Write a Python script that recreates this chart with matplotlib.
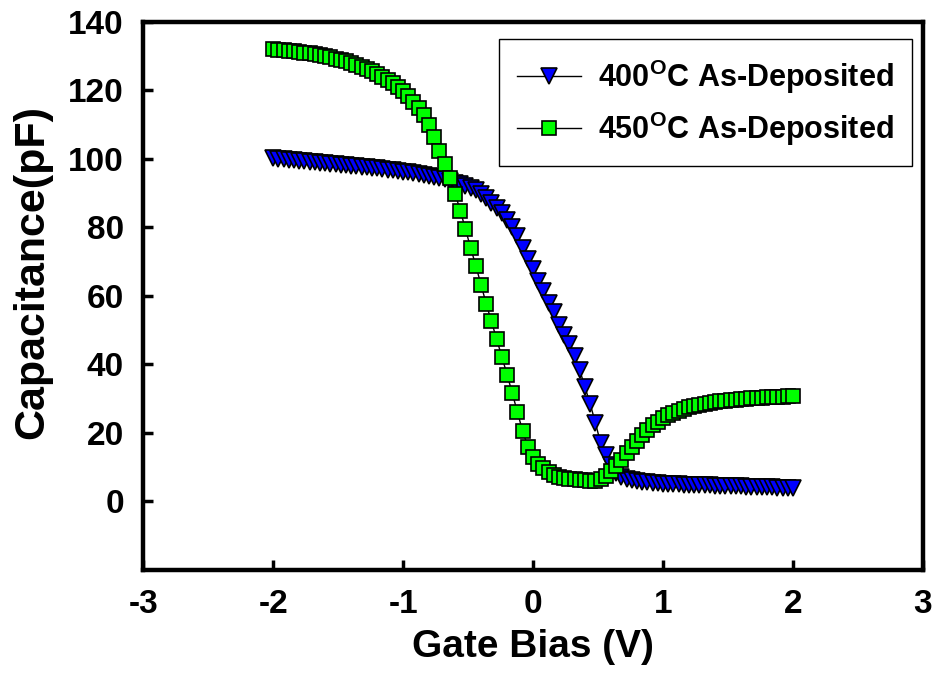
import numpy as np
import matplotlib
matplotlib.use("Agg")
import matplotlib.pyplot as plt

plt.rcParams['font.family'] = ['Liberation Sans', 'DejaVu Sans']
plt.rcParams['font.weight'] = 'bold'
plt.rcParams['axes.unicode_minus'] = False
plt.rcParams['mathtext.fontset'] = 'custom'
plt.rcParams['mathtext.bf'] = 'Liberation Sans:bold'
plt.rcParams['mathtext.rm'] = 'Liberation Sans:bold'

# gate bias sweep, -2 V to 2 V
bias = np.round(np.linspace(-2.0, 2.0, 101), 2)

# C-V curve, 400 C as-deposited (pF)
cap_400 = [100.2, 100.0, 99.9, 99.7, 99.5, 99.4, 99.3, 99.2, 99.0, 98.9,
           98.8, 98.6, 98.5, 98.3, 98.2, 98.0, 97.8, 97.7, 97.5, 97.3,
           97.2, 97.0, 96.8, 96.6, 96.4, 96.2, 96.0, 95.8, 95.6, 95.4,
           95.1, 94.8, 94.5, 94.0, 93.5, 93.0, 92.5, 92.0, 91.4, 90.8,
           89.8, 88.5, 87.1, 85.6, 84.1, 82.2, 80.2, 77.6, 74.0, 70.6,
           67.8, 64.3, 61.4, 57.9, 55.2, 51.6, 48.7, 46.0, 42.5, 38.2,
           33.3, 28.4, 22.9, 17.0, 13.6, 10.5, 8.3, 7.2, 6.6, 6.2,
           5.9, 5.7, 5.5, 5.4, 5.3, 5.2, 5.1, 5.0, 4.95, 4.9,
           4.85, 4.8, 4.75, 4.7, 4.65, 4.6, 4.55, 4.5, 4.45, 4.4,
           4.35, 4.3, 4.25, 4.2, 4.15, 4.1, 4.05, 4.0, 3.95, 3.9,
           3.85]

# C-V curve, 450 C as-deposited (pF)
cap_450 = [132.0, 131.9, 131.8, 131.6, 131.4, 131.2, 131.0, 130.8, 130.5, 130.2,
           129.9, 129.6, 129.2, 128.8, 128.4, 127.9, 127.4, 126.8, 126.2, 125.5,
           124.7, 123.9, 123.0, 122.0, 120.9, 119.7, 118.2, 116.6, 114.8, 112.7,
           109.8, 106.3, 102.2, 98.6, 94.4, 89.8, 84.9, 79.4, 74.0, 68.7,
           63.2, 57.6, 52.5, 47.3, 42.2, 37.0, 31.6, 26.0, 20.5, 16.0,
           13.0, 10.9, 9.6, 8.5, 7.7, 7.2, 6.9, 6.6, 6.4, 6.2,
           6.1, 6.0, 6.0, 6.4, 7.4, 8.8, 10.3, 12.1, 14.0, 15.9,
           17.7, 19.4, 20.9, 22.2, 23.3, 24.3, 25.1, 25.8, 26.4, 26.9,
           27.4, 27.8, 28.2, 28.5, 28.8, 29.0, 29.2, 29.4, 29.6, 29.7,
           29.9, 30.0, 30.1, 30.2, 30.3, 30.4, 30.5, 30.6, 30.6, 30.7,
           30.8]

fig = plt.figure(figsize=(9.36, 6.8), dpi=100)
ax = fig.add_axes([0.153, 0.162, 0.833, 0.806])

ax.plot(bias, cap_400, color='black', lw=1, marker='v', ms=12,
        mfc='#0000ff', mec='black', mew=1.2,
        label=r'400$^{\mathbf{O}}$C As-Deposited')
ax.plot(bias, cap_450, color='black', lw=1, marker='s', ms=10.5,
        mfc='#00ff00', mec='black', mew=1.2,
        label=r'450$^{\mathbf{O}}$C As-Deposited')

ax.set_xlim(-3, 3)
ax.set_ylim(-20, 140)
ax.set_xticks(range(-3, 4))
ax.set_yticks(range(0, 141, 20))

for s in ax.spines.values():
    s.set_linewidth(3.2)
ax.tick_params(direction='in', length=7, width=2.5, labelsize=24, pad=14)
for lab in ax.get_xticklabels() + ax.get_yticklabels():
    lab.set_fontweight('bold')

ax.set_xlabel('Gate Bias (V)', fontsize=28, fontweight='bold', labelpad=6)
ax.set_ylabel('Capacitance(pF)', fontsize=31, fontweight='bold')
ax.yaxis.set_label_coords(-0.117, 0.544)

leg = ax.legend(loc='upper right', bbox_to_anchor=(0.986, 0.968),
                fontsize=22, handlelength=2.1, handletextpad=0.55,
                borderpad=0.6, labelspacing=0.45, borderaxespad=0,
                fancybox=False, edgecolor='black', framealpha=1)
leg.get_frame().set_linewidth(1)
for t in leg.get_texts():
    t.set_fontweight('bold')

fig.savefig('out.png', dpi=100)
